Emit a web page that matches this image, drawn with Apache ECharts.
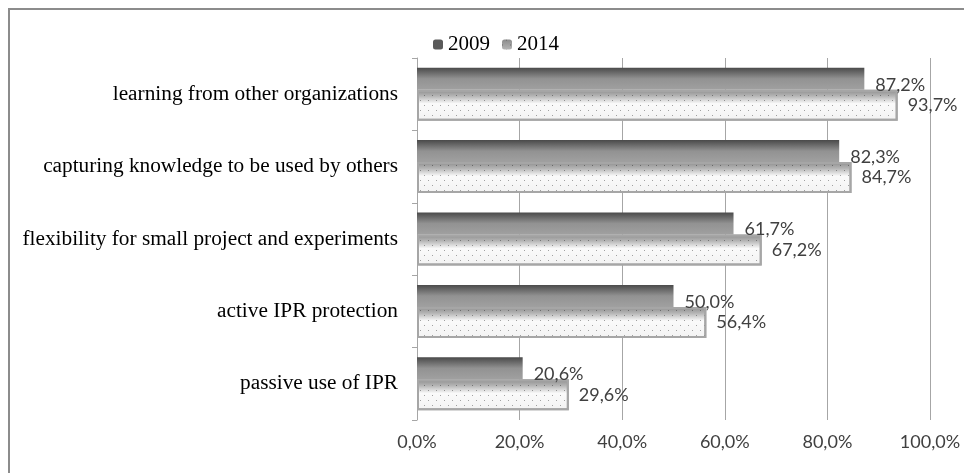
<!DOCTYPE html>
<html>
<head>
<meta charset="utf-8">
<script src="https://cdn.jsdelivr.net/npm/echarts@6/dist/echarts.min.js"></script>
<style>
  html, body { margin: 0; padding: 0; background: #ffffff; }
  #chart { width: 964px; height: 473px; }
</style>
</head>
<body>
<div id="chart"></div>
<script>
// categories, top to bottom
const categorias = [
  'learning from other organizations',
  'capturing knowledge to be used by others',
  'flexibility for small project and experiments',
  'active IPR protection',
  'passive use of IPR'
];
const valores2009 = [87.2, 82.3, 61.7, 50.0, 20.6];
const valores2014 = [93.7, 84.7, 67.2, 56.4, 29.6];
const ticksX = [0, 20, 40, 60, 80, 100];

const chart = echarts.init(document.getElementById('chart'), null, { renderer: 'canvas' });

function fmtPct(v) {
  return Number(v).toFixed(1).replace('.', ',') + '%';
}

const option = {
  backgroundColor: '#ffffff',
  animation: false,
  legend: {
    data: [
      { name: '2009', itemStyle: { color: '#5a5a5a', decal: 'none' } },
      { name: '2014', itemStyle: {
        color: new echarts.graphic.LinearGradient(0, 0, 0, 1, [
          { offset: 0, color: '#8c8c8c' },
          { offset: 1, color: '#b5b5b5' }
        ]),
        borderWidth: 0
      } }
    ],
    left: 428,
    top: 29,
    itemWidth: 10,
    itemHeight: 10,
    itemGap: 12,
    textStyle: { fontFamily: 'Liberation Serif', fontSize: 21, color: '#000' }
  },
  grid: { left: 417, right: 34, top: 58, bottom: 53 },
  xAxis: {
    type: 'value',
    min: ticksX[0],
    max: ticksX[ticksX.length - 1],
    interval: 20,
    axisLine: { show: false },
    axisTick: { show: false },
    splitLine: { lineStyle: { color: '#a6a6a6', width: 1 } },
    axisLabel: {
      fontFamily: 'Lato',
      fontSize: 18,
      color: '#404040',
      margin: 13,
      formatter: fmtPct
    }
  },
  yAxis: {
    type: 'category',
    inverse: true,
    data: categorias,
    axisLine: { lineStyle: { color: '#a6a6a6', width: 1 } },
    axisTick: { show: true, length: 5, lineStyle: { color: '#a6a6a6' } },
    axisLabel: {
      fontFamily: 'Liberation Serif',
      fontSize: 21.3,
      color: '#000',
      margin: 19
    }
  },
  series: [
    {
      name: '2009',
      type: 'bar',
      barWidth: 22,
      barGap: '0%',
      data: valores2009,
      itemStyle: {
        color: new echarts.graphic.LinearGradient(0, 0, 0, 1, [
          { offset: 0, color: '#4a4a4a' },
          { offset: 0.5, color: '#929292' },
          { offset: 1, color: '#a0a0a0' }
        ])
      },
      label: {
        show: true,
        position: 'right',
        distance: 11,
        offset: [0, 6],
        fontFamily: 'Lato',
        fontSize: 18,
        color: '#404040',
        formatter: p => fmtPct(p.value)
      }
    },
    {
      name: '2014',
      type: 'bar',
      barWidth: 31,
      data: valores2014,
      itemStyle: {
        color: new echarts.graphic.LinearGradient(0, 0, 0, 1, [
          { offset: 0, color: '#8c8c8c' },
          { offset: 0.2, color: '#b4b4b4' },
          { offset: 0.45, color: '#fafafa' },
          { offset: 1, color: '#f3f3f3' }
        ]),
        borderColor: '#a6a6a6',
        borderWidth: 2,
        decal: {
          symbol: 'rect',
          symbolSize: 1,
          dashArrayX: [[1, 7], [0, 4, 1, 3]],
          dashArrayY: [1, 4],
          color: 'rgba(0,0,0,0.35)',
          backgroundColor: null
        }
      },
      label: {
        show: true,
        position: 'right',
        distance: 10,
        fontFamily: 'Lato',
        fontSize: 18,
        color: '#404040',
        formatter: p => fmtPct(p.value)
      }
    }
  ],
  graphic: [
    {
      type: 'polyline',
      silent: true,
      shape: { points: [[9, 473], [9, 9], [964, 9]] },
      style: { stroke: '#8c8c8c', lineWidth: 2, fill: null }
    }
  ]
};

chart.setOption(option);
</script>
</body>
</html>
